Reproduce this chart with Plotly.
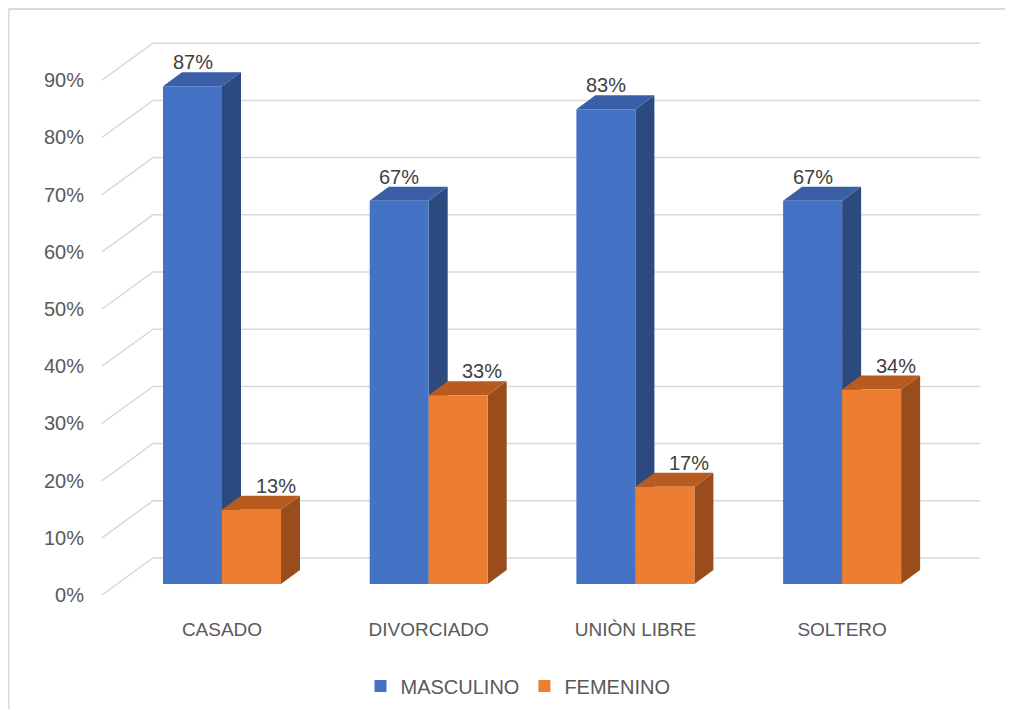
import plotly.graph_objects as go

# ---------------- data ----------------
categorias = ["CASADO", "DIVORCIADO", "UNIÒN LIBRE", "SOLTERO"]
masculino = [87, 67, 83, 67]
femenino = [13, 33, 17, 34]
ticks_y = [0, 10, 20, 30, 40, 50, 60, 70, 80, 90]
ticks_txt = [f"{v}%" for v in ticks_y]

# ---------------- layout geometry (reference pixel frame) ----------------
PAGE_OFF = 8                       # default body margin of the html page
W, H = 1013 - 2 * PAGE_OFF, 717 - 2 * PAGE_OFF
plot_l, plot_r, plot_t, plot_b = 20, 1000, 10, 612   # in page pixels
ML, MR = plot_l - PAGE_OFF, W - (plot_r - PAGE_OFF)
MT, MB = plot_t - PAGE_OFF, H - (plot_b - PAGE_OFF)

X0_PX = 222.0      # pixel centre of first category
CAT_PX = 206.7     # pixels per category
Y0_PX = 584.0      # pixel of 0% at bar fronts
PX_PCT = 5.72      # pixels per percent

x_range = [(plot_l - X0_PX) / CAT_PX, (plot_r - X0_PX) / CAT_PX]
y_range = [(Y0_PX - plot_b) / PX_PCT, (Y0_PX - plot_t) / PX_PCT]

BAR_W = 59 / CAT_PX
DX = 19 / CAT_PX
DY = 14 / PX_PCT
FLOOR_Y = -(595 - Y0_PX) / PX_PCT
WALL_Y = (Y0_PX - 558) / PX_PCT
FRONT_X = (102 - X0_PX) / CAT_PX
WALL_X = (153 - X0_PX) / CAT_PX
END_X = (980 - X0_PX) / CAT_PX
LBL_SHIFT_F = 24 / CAT_PX

BLUE, BLUE_TOP, BLUE_SIDE = "#4472C4", "#3A5FA6", "#2C4A80"
ORANGE, ORANGE_TOP, ORANGE_SIDE = "#ED7D31", "#B85B20", "#9A4D1C"
GRID = "#D9D9D9"

shapes = []
# gridlines (floor edge -> back wall)
for v in ticks_y:
    path = (f"M{FRONT_X},{v + FLOOR_Y} L{WALL_X},{v + WALL_Y} "
            f"L{END_X},{v + WALL_Y}")
    shapes.append(dict(type="path", path=path, xref="x", yref="y2",
                       line=dict(color=GRID, width=1.5), layer="below"))


def faces(xl, v, top, side):
    xr = xl + BAR_W
    s = []
    s.append(dict(type="path", xref="x", yref="y2", layer="below",
                  path=(f"M{xr},0 L{xr},{v} L{xr + DX},{v + DY} "
                        f"L{xr + DX},{DY} Z"),
                  fillcolor=side, line=dict(width=0)))
    s.append(dict(type="path", xref="x", yref="y2", layer="below",
                  path=(f"M{xl},{v} L{xr},{v} L{xr + DX},{v + DY} "
                        f"L{xl + DX},{v + DY} Z"),
                  fillcolor=top, line=dict(width=0)))
    return s


for i in range(len(categorias)):
    shapes += faces(i - BAR_W, masculino[i], BLUE_TOP, BLUE_SIDE)
    shapes += faces(i, femenino[i], ORANGE_TOP, ORANGE_SIDE)

# chart border (left + top), kept inside the figure
pw, ph = plot_r - plot_l, plot_b - plot_t
bx = (8.5 - plot_l) / pw
by = (plot_b - 9) / ph
bx_end = (PAGE_OFF + W - plot_l) / pw
by_end = (plot_b - (PAGE_OFF + H)) / ph
shapes.append(dict(type="line", xref="paper", yref="paper",
                   x0=bx, x1=bx, y0=by_end, y1=by,
                   line=dict(color=GRID, width=2)))
shapes.append(dict(type="line", xref="paper", yref="paper",
                   x0=bx, x1=bx_end, y0=by, y1=by,
                   line=dict(color=GRID, width=2)))

annotations = []
for i in range(len(categorias)):
    annotations.append(dict(x=i - BAR_W / 2, y=masculino[i] + DY,
                            text=f"{masculino[i]}%", showarrow=False,
                            xref="x", yref="y2", yanchor="bottom",
                            yshift=-3,
                            font=dict(size=20, color="#404040")))
    annotations.append(dict(x=i + BAR_W / 2 + LBL_SHIFT_F, y=femenino[i] + DY,
                            text=f"{femenino[i]}%", showarrow=False,
                            xref="x", yref="y2", yanchor="bottom",
                            yshift=-3,
                            font=dict(size=20, color="#404040")))

fig = go.Figure()
# empty trace so that the front percentage axis (y) is rendered
fig.add_trace(go.Scatter(x=[], y=[], yaxis="y", showlegend=False,
                         hoverinfo="skip"))
fig.add_trace(go.Bar(x=list(range(len(categorias))), y=masculino,
                     offset=-BAR_W, width=BAR_W, name="MASCULINO",
                     marker=dict(color=BLUE, line=dict(width=0)),
                     yaxis="y2", hoverinfo="skip"))
fig.add_trace(go.Bar(x=list(range(len(categorias))), y=femenino,
                     offset=0, width=BAR_W, name="FEMENINO",
                     marker=dict(color=ORANGE, line=dict(width=0)),
                     yaxis="y2", hoverinfo="skip"))

ypos = (84 - plot_l) / pw
fig.update_layout(
    width=W, height=H,
    margin=dict(l=ML, r=MR, t=MT, b=MB),
    paper_bgcolor="white", plot_bgcolor="rgba(0,0,0,0)",
    barmode="overlay",
    font=dict(family="Liberation Sans, Arial, sans-serif", color="#595959"),
    xaxis=dict(range=x_range, tickvals=list(range(len(categorias))),
               ticktext=categorias, showgrid=False, zeroline=False,
               showline=False, ticks="", ticklabelstandoff=4,
               tickfont=dict(size=19, color="#595959")),
    # front (floor-edge) percentage scale carrying the tick labels
    yaxis=dict(range=[y_range[0] - FLOOR_Y, y_range[1] - FLOOR_Y],
               anchor="free", position=ypos, side="left",
               tickvals=ticks_y, ticktext=ticks_txt, showgrid=False,
               zeroline=False, showline=False, ticks="",
               tickfont=dict(size=20, color="#595959")),
    # bar-front percentage scale
    yaxis2=dict(range=y_range, overlaying="y", showgrid=False,
                zeroline=False, showticklabels=False, showline=False),
    shapes=shapes,
    annotations=annotations,
    legend=dict(orientation="h", x=(518 - plot_l) / pw,
                xanchor="center", y=(plot_b - 686) / ph,
                yanchor="middle", font=dict(size=20, color="#595959"),
                traceorder="normal"),
    showlegend=True,
)

fig.write_html("out.html")
